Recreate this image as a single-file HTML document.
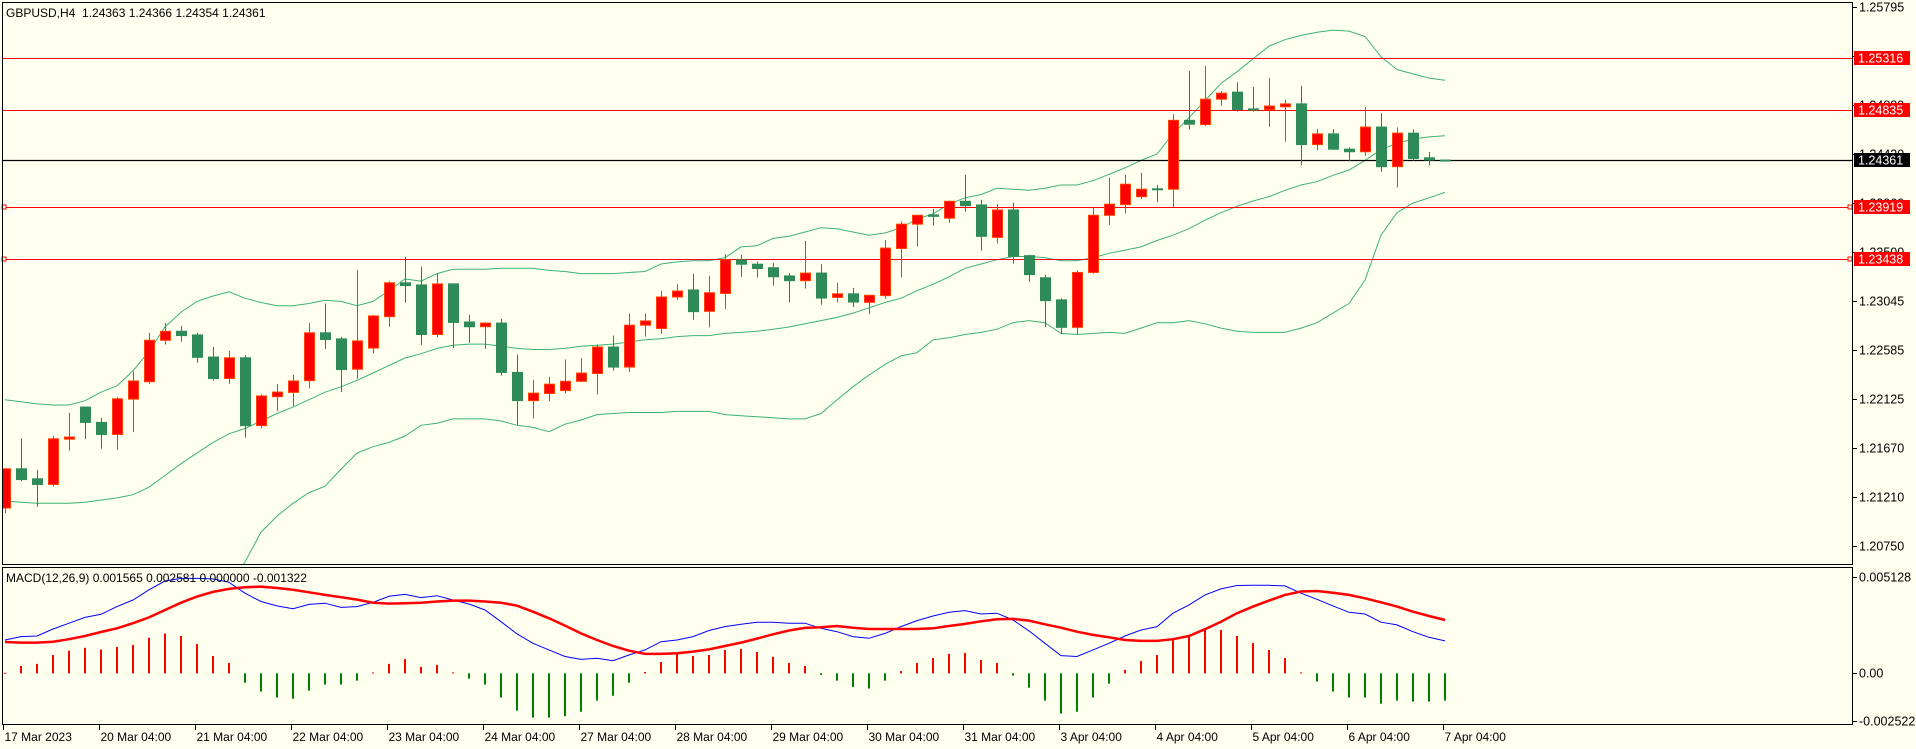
<!DOCTYPE html>
<html><head><meta charset="utf-8"><style>
html,body{margin:0;padding:0;background:#fffff0;}
svg{display:block;font-family:"Liberation Sans",sans-serif;}
</style></head><body>
<svg id="chart" width="1916" height="749" viewBox="0 0 1916 749" xmlns="http://www.w3.org/2000/svg">
<rect x="0" y="0" width="1916" height="749" fill="#fffff0"/>
<defs>
<clipPath id="mainClip"><rect x="2" y="2" width="1850" height="563"/></clipPath>
<clipPath id="macdClip"><rect x="2" y="568" width="1850" height="157"/></clipPath>
</defs>
<g id="main" clip-path="url(#mainClip)"></g>
<g id="macd" clip-path="url(#macdClip)"></g>
<g id="axes"></g>
<path d="M2.5 2.5H1852.5V564.5H2.5Z" fill="none" stroke="#000" stroke-width="1"/>
<path d="M2.5 567.5H1852.5V724.5H2.5Z" fill="none" stroke="#000" stroke-width="1"/>
<text x="6" y="17" font-size="12" fill="#000">GBPUSD,H4&#160; 1.24363 1.24366 1.24354 1.24361</text>
<text x="6" y="582" font-size="12" fill="#000">MACD(12,26,9) 0.001565 0.002581 0.000000 -0.001322</text>
</svg>
<script>
const opens=[1.21105,1.21473,1.21379,1.21326,1.21750,1.22051,1.21907,1.21794,1.22125,1.22288,1.22676,1.22760,1.22726,1.22519,1.22318,1.22512,1.21877,1.22148,1.22188,1.22298,1.22746,1.22689,1.22405,1.22603,1.22897,1.23214,1.23194,1.22730,1.23204,1.22847,1.22803,1.22837,1.22375,1.22111,1.22178,1.22205,1.22292,1.22365,1.22613,1.22425,1.22817,1.22786,1.23081,1.23147,1.22947,1.23114,1.23428,1.23388,1.23355,1.23278,1.23234,1.23305,1.23077,1.23111,1.23031,1.23094,1.23535,1.23763,1.23850,1.23819,1.23977,1.23943,1.23639,1.23896,1.23468,1.23261,1.23054,1.22797,1.23311,1.23846,1.23946,1.24020,1.24094,1.24090,1.24735,1.24695,1.24933,1.24999,1.24842,1.24836,1.24862,1.24889,1.24508,1.24608,1.24465,1.24441,1.24672,1.24301,1.24615,1.24384,1.24363];
const highs=[1.21473,1.21757,1.21463,1.21780,1.21997,1.22051,1.21951,1.22141,1.22385,1.22746,1.22837,1.22810,1.22746,1.22613,1.22576,1.22536,1.22168,1.22268,1.22352,1.22837,1.23020,1.22709,1.23335,1.22914,1.23228,1.23458,1.23365,1.23305,1.23204,1.22914,1.22843,1.22877,1.22542,1.22308,1.22335,1.22496,1.22509,1.22636,1.22720,1.22927,1.22927,1.23137,1.23201,1.23298,1.23281,1.23482,1.23475,1.23412,1.23398,1.23305,1.23605,1.23388,1.23214,1.23167,1.23097,1.23615,1.23789,1.23846,1.23906,1.23983,1.24224,1.23990,1.23950,1.23963,1.23475,1.23288,1.23067,1.23331,1.23923,1.24197,1.24224,1.24244,1.24130,1.24792,1.25197,1.25244,1.25010,1.25093,1.25046,1.25133,1.24926,1.25060,1.24655,1.24652,1.24481,1.24859,1.24802,1.24669,1.24652,1.24438,1.24366];
const lows=[1.21058,1.21359,1.21115,1.21309,1.21643,1.21750,1.21660,1.21650,1.21817,1.22268,1.22636,1.22663,1.22466,1.22298,1.22268,1.21763,1.21850,1.22011,1.22058,1.22225,1.22596,1.22191,1.22312,1.22552,1.22803,1.23027,1.22633,1.22706,1.22603,1.22653,1.22596,1.22345,1.21884,1.21944,1.22108,1.22178,1.22285,1.22168,1.22392,1.22379,1.22710,1.22736,1.23054,1.22867,1.22797,1.22970,1.23271,1.23264,1.23188,1.23031,1.23161,1.23010,1.23031,1.22987,1.22920,1.23064,1.23264,1.23555,1.23749,1.23776,1.23880,1.23515,1.23582,1.23395,1.23224,1.22800,1.22736,1.22726,1.23298,1.23756,1.23863,1.23997,1.23967,1.23923,1.24648,1.24682,1.24872,1.24816,1.24816,1.24675,1.24535,1.24314,1.24455,1.24458,1.24351,1.24401,1.24254,1.24107,1.24358,1.24311,1.24354];
const closes=[1.21473,1.21372,1.21326,1.21754,1.21770,1.21907,1.21794,1.22128,1.22295,1.22676,1.22760,1.22720,1.22516,1.22318,1.22512,1.21877,1.22155,1.22191,1.22295,1.22746,1.22683,1.22402,1.22670,1.22904,1.23214,1.23188,1.22730,1.23204,1.22843,1.22803,1.22837,1.22375,1.22111,1.22181,1.22265,1.22292,1.22369,1.22613,1.22425,1.22817,1.22857,1.23081,1.23137,1.22944,1.23121,1.23428,1.23388,1.23348,1.23271,1.23234,1.23305,1.23071,1.23111,1.23034,1.23097,1.23539,1.23763,1.23846,1.23836,1.23977,1.23936,1.23649,1.23896,1.23462,1.23291,1.23047,1.22797,1.23311,1.23846,1.23950,1.24137,1.24090,1.24087,1.24735,1.24699,1.24933,1.24989,1.24836,1.24832,1.24869,1.24889,1.24508,1.24608,1.24465,1.24441,1.24672,1.24301,1.24615,1.24378,1.24364,1.24361];
const bbUpper=[1.2212,1.2210,1.2208,1.2207,1.2207,1.2211,1.2219,1.2225,1.2239,1.2257,1.2280,1.2294,1.2304,1.2309,1.2313,1.2307,1.2303,1.2300,1.2300,1.2302,1.2305,1.2304,1.2300,1.2304,1.2314,1.2325,1.2323,1.2330,1.2334,1.2334,1.2334,1.2335,1.2335,1.2335,1.2333,1.2332,1.2330,1.2330,1.2330,1.2331,1.2332,1.2339,1.2341,1.2342,1.2342,1.2345,1.2355,1.2356,1.2363,1.2365,1.2369,1.2373,1.2372,1.2369,1.2366,1.2368,1.2373,1.2381,1.2386,1.2395,1.2401,1.2404,1.2410,1.2409,1.2408,1.2410,1.2413,1.2413,1.2417,1.2423,1.2429,1.2436,1.2442,1.2461,1.2476,1.2492,1.2508,1.2519,1.2531,1.2543,1.2549,1.2553,1.2556,1.2558,1.2557,1.2552,1.2533,1.2521,1.2517,1.2513,1.2511];
const bbMiddle=[1.2117,1.2116,1.2115,1.2115,1.2115,1.2116,1.2118,1.2120,1.2123,1.2130,1.2141,1.2152,1.2162,1.2172,1.2180,1.2185,1.2192,1.2199,1.2205,1.2212,1.2219,1.2224,1.2230,1.2237,1.2244,1.2251,1.2255,1.2260,1.2263,1.2264,1.2264,1.2262,1.2260,1.2259,1.2259,1.2260,1.2262,1.2263,1.2264,1.2266,1.2268,1.2269,1.2271,1.2272,1.2272,1.2274,1.2275,1.2276,1.2278,1.2280,1.2283,1.2286,1.2289,1.2293,1.2298,1.2303,1.2307,1.2314,1.2320,1.2327,1.2335,1.2339,1.2343,1.2346,1.2346,1.2345,1.2342,1.2342,1.2345,1.2349,1.2352,1.2355,1.2361,1.2366,1.2372,1.2380,1.2387,1.2393,1.2398,1.2402,1.2408,1.2413,1.2416,1.2422,1.2427,1.2436,1.2446,1.2452,1.2456,1.2458,1.2459];
const bbLower=[1.1940,1.1940,1.1942,1.1943,1.1944,1.1945,1.1946,1.1947,1.1948,1.1949,1.1951,1.1975,1.1998,1.2022,1.2040,1.2060,1.2088,1.2103,1.2115,1.2125,1.2131,1.2147,1.2162,1.2168,1.2172,1.2178,1.2188,1.2190,1.2194,1.2194,1.2194,1.2192,1.2188,1.2186,1.2182,1.2189,1.2193,1.2198,1.2199,1.2200,1.2200,1.2200,1.2201,1.2201,1.2201,1.2198,1.2197,1.2196,1.2195,1.2194,1.2194,1.2199,1.2212,1.2224,1.2235,1.2245,1.2253,1.2256,1.2268,1.2270,1.2273,1.2275,1.2278,1.2284,1.2286,1.2284,1.2274,1.2273,1.2274,1.2275,1.2274,1.2279,1.2284,1.2284,1.2286,1.2283,1.2279,1.2276,1.2275,1.2275,1.2275,1.2279,1.2284,1.2293,1.2302,1.2324,1.2366,1.2387,1.2396,1.2401,1.2406];
const macdMain=[0.00177,0.00195,0.00198,0.00235,0.00266,0.00297,0.00313,0.00354,0.00389,0.00443,0.00490,0.00504,0.00504,0.00501,0.00483,0.00425,0.00381,0.00358,0.00343,0.00366,0.00372,0.00350,0.00354,0.00377,0.00409,0.00419,0.00402,0.00412,0.00389,0.00368,0.00336,0.00274,0.00209,0.00159,0.00124,0.00089,0.00074,0.00080,0.00067,0.00097,0.00124,0.00168,0.00177,0.00195,0.00227,0.00248,0.00260,0.00271,0.00271,0.00266,0.00266,0.00239,0.00221,0.00195,0.00186,0.00212,0.00248,0.00280,0.00304,0.00324,0.00333,0.00315,0.00319,0.00283,0.00225,0.00159,0.00094,0.00089,0.00124,0.00159,0.00198,0.00230,0.00248,0.00319,0.00363,0.00416,0.00448,0.00466,0.00467,0.00467,0.00464,0.00425,0.00393,0.00358,0.00324,0.00315,0.00271,0.00257,0.00221,0.00191,0.00172];
const macdSignal=[0.00166,0.00163,0.00163,0.00168,0.00181,0.00198,0.00219,0.00239,0.00266,0.00297,0.00336,0.00375,0.00407,0.00432,0.00448,0.00457,0.00460,0.00453,0.00443,0.00430,0.00416,0.00404,0.00391,0.00375,0.00370,0.00372,0.00375,0.00381,0.00386,0.00386,0.00381,0.00375,0.00359,0.00327,0.00292,0.00253,0.00212,0.00177,0.00145,0.00120,0.00103,0.00103,0.00106,0.00115,0.00127,0.00145,0.00163,0.00184,0.00207,0.00227,0.00241,0.00244,0.00251,0.00242,0.00235,0.00235,0.00235,0.00235,0.00239,0.00251,0.00262,0.00276,0.00287,0.00289,0.00280,0.00260,0.00242,0.00221,0.00204,0.00191,0.00177,0.00172,0.00172,0.00181,0.00198,0.00234,0.00274,0.00319,0.00354,0.00386,0.00416,0.00434,0.00437,0.00428,0.00416,0.00398,0.00377,0.00354,0.00327,0.00304,0.00283];
const macdHist=[0.00003,0.00039,0.00050,0.00097,0.00120,0.00135,0.00126,0.00140,0.00150,0.00189,0.00211,0.00198,0.00156,0.00092,0.00055,-0.00050,-0.00097,-0.00129,-0.00135,-0.00092,-0.00060,-0.00060,-0.00039,0.00004,0.00050,0.00076,0.00034,0.00044,0.00005,-0.00028,-0.00060,-0.00129,-0.00198,-0.00235,-0.00235,-0.00228,-0.00204,-0.00145,-0.00119,-0.00050,0.00007,0.00060,0.00103,0.00092,0.00097,0.00124,0.00129,0.00113,0.00087,0.00055,0.00039,-0.00009,-0.00039,-0.00073,-0.00081,-0.00039,0.00012,0.00055,0.00081,0.00103,0.00108,0.00071,0.00055,-0.00012,-0.00076,-0.00145,-0.00214,-0.00204,-0.00129,-0.00055,0.00018,0.00065,0.00097,0.00177,0.00193,0.00230,0.00230,0.00198,0.00161,0.00124,0.00081,0.00005,-0.00044,-0.00097,-0.00129,-0.00129,-0.00161,-0.00145,-0.00150,-0.00150,-0.00145];
const priceTicks=[1.25795,1.25340,1.24880,1.24420,1.23960,1.23500,1.23045,1.22585,1.22125,1.21670,1.21210,1.20750];
const priceTickLabels=["1.25795","1.25340","1.24880","1.24420","1.23960","1.23500","1.23045","1.22585","1.22125","1.21670","1.21210","1.20750"];
const levelValues=[1.25316,1.24835,1.23919,1.23438];
const levelLabels=["1.25316","1.24835","1.23919","1.23438"];
const currentPrice=1.24361;
const macdTicks=[0.005128,0,-0.002522];
const macdTickLabels=["0.005128","0.00","-0.002522"];
const timeLabels=["17 Mar 2023","20 Mar 04:00","21 Mar 04:00","22 Mar 04:00","23 Mar 04:00","24 Mar 04:00","27 Mar 04:00","28 Mar 04:00","29 Mar 04:00","30 Mar 04:00","31 Mar 04:00","3 Apr 04:00","4 Apr 04:00","5 Apr 04:00","6 Apr 04:00","7 Apr 04:00"];
const barsPerLabel=6;

const NS="http://www.w3.org/2000/svg";
function xB(i){return 5+16*i;}
function yP(p){return 7.1+(1.25795-p)/(1.25795-1.20750)*(546-7.1);}
function yM(v){return 673.3-v/0.005128*96.6;}
function mk(tag,attrs,parent){const e=document.createElementNS(NS,tag);for(const k in attrs)e.setAttribute(k,attrs[k]);parent.appendChild(e);return e;}
const main=document.getElementById('main'),macd=document.getElementById('macd'),axes=document.getElementById('axes');

[[bbUpper,'bollinger-upper'],[bbMiddle,'bollinger-middle'],[bbLower,'bollinger-lower']].forEach(([arr,nm])=>{
  const d=arr.map((v,i)=>(i?'L':'M')+xB(i)+' '+yP(v).toFixed(1)).join(' ');
  const p=mk('path',{d:d,fill:'none',stroke:'#3cb371','stroke-width':1},main);
  
  
});
levelValues.forEach((v,k)=>{
  const y=Math.round(yP(v))+0.5;
  const l=mk('line',{x1:2,x2:1852,y1:y,y2:y,stroke:'#ff0000','stroke-width':1},main);
  
  
});
{
  const y=Math.round(yP(currentPrice))+0.5;
  const l=mk('line',{x1:2,x2:1852,y1:y,y2:y,stroke:'#000','stroke-width':1.2},main);
  
  
}
for(let i=0;i<opens.length;i++){
  const up=closes[i]>=opens[i];
  const x=xB(i);
  const g=mk('g',{},main);
  
  
  mk('line',{x1:x+0.5,x2:x+0.5,y1:yP(highs[i]),y2:yP(lows[i]),stroke:up?'#ff3300':'#1f8a2e','stroke-width':1},g);
  const t=yP(Math.max(opens[i],closes[i])),b=yP(Math.min(opens[i],closes[i]));
  mk('rect',{x:x-4.5,y:t,width:10,height:Math.max(1,b-t),fill:up?'#ff0000':'#2e8b57',stroke:up?'#ff4000':'#2e8b57','stroke-width':1},g);
}
levelValues.slice(2).forEach((v,k)=>{
  const y=Math.round(yP(v));
  const r=mk('rect',{x:2,y:y-2,width:4,height:4,fill:'#fffff0',stroke:'#ff0000','stroke-width':1},axes);
  
  
  const r2=mk('rect',{x:1848,y:y-2,width:4,height:4,fill:'#fffff0',stroke:'#ff0000','stroke-width':1},axes);
  
  
});
priceTicks.forEach((v,k)=>{
  const y=Math.round(yP(v))+0.5;
  mk('line',{x1:1852,x2:1857,y1:y,y2:y,stroke:'#000'},axes);
  const t=mk('text',{x:1859,y:y+4,'font-size':12.5,fill:'#000'},axes);
  t.textContent=priceTickLabels[k];
  
  
});
levelValues.forEach((v,k)=>{
  const y=Math.round(yP(v));
  mk('rect',{x:1854,y:y-7,width:56,height:14,fill:'#ff0000'},axes);
  const t=mk('text',{x:1858,y:y+4.5,'font-size':12.5,fill:'#fff'},axes);
  t.textContent=levelLabels[k];
  
  
});
{
  const y=Math.round(yP(currentPrice));
  mk('rect',{x:1854,y:y-7,width:56,height:14,fill:'#000'},axes);
  const t=mk('text',{x:1858,y:y+4.5,'font-size':12.5,fill:'#fff'},axes);
  t.textContent=currentPrice.toFixed(5);
  
  
}
for(let i=0;i<macdHist.length;i++){
  const v=macdHist[i],y0=yM(0),y1=yM(v);
  const r=mk('rect',{x:xB(i)-1,y:Math.min(y0,y1),width:2,height:Math.max(1,Math.abs(y1-y0)),fill:v>=0?'#ff0000':'#008000'},macd);
  
  
}
{
  const d1=macdMain.map((v,i)=>(i?'L':'M')+xB(i)+' '+yM(v).toFixed(1)).join(' ');
  const p1=mk('path',{d:d1,fill:'none',stroke:'#0000ff','stroke-width':1},macd);
  
  
  const d2=macdSignal.map((v,i)=>(i?'L':'M')+xB(i)+' '+yM(v).toFixed(1)).join(' ');
  const p2=mk('path',{d:d2,fill:'none',stroke:'#ff0000','stroke-width':2.5},macd);
  
  
}
macdTicks.forEach((v,k)=>{
  const y=Math.round(yM(v))+0.5;
  mk('line',{x1:1852,x2:1857,y1:y,y2:y,stroke:'#000'},axes);
  const t=mk('text',{x:1859,y:y+4,'font-size':12.5,fill:'#000'},axes);
  t.textContent=macdTickLabels[k];
  
  
});
timeLabels.forEach((s,k)=>{
  const x=Math.round(xB(k*barsPerLabel))-1.5;
  mk('line',{x1:x,x2:x,y1:725,y2:730,stroke:'#000'},axes);
  const t=mk('text',{x:x+1,y:741,'font-size':12,fill:'#000'},axes);
  t.textContent=s;
  
  
});
</script>
</body></html>
